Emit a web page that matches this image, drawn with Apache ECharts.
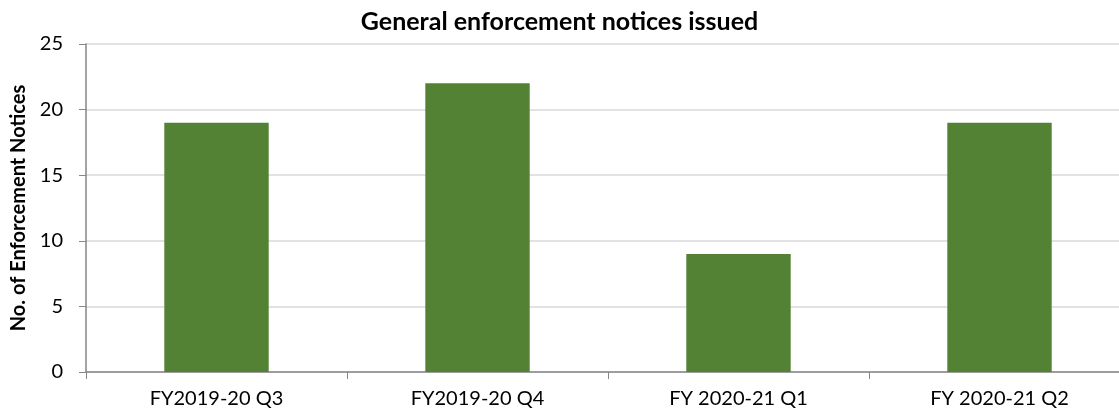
<!DOCTYPE html>
<html>
<head>
<meta charset="utf-8">
<script src="https://cdn.jsdelivr.net/npm/echarts@6/dist/echarts.min.js"></script>
<style>html,body{margin:0;padding:0;background:#fff;}#c{width:1119px;height:416px;}</style>
</head>
<body>
<div id="c"></div>
<script>
const categories = ["FY2019-20 Q3", "FY2019-20 Q4", "FY 2020-21 Q1", "FY 2020-21 Q2"];
const notices = [19, 22, 9, 19];
const yTicks = { min: 0, max: 25, interval: 5 };
const chartTitle = "General enforcement notices issued";
const yName = "No. of Enforcement Notices";

const chart = echarts.init(document.getElementById('c'), null, { renderer: 'canvas' });
const font = 'Lato, "Open Sans", sans-serif';
chart.setOption({
  animation: false,
  title: {
    text: chartTitle, left: 'center', top: 4,
    textStyle: { fontFamily: font, fontWeight: 'bold', fontSize: 25, color: '#000' }
  },
  grid: { left: 86, right: -11, top: 44, bottom: 44, containLabel: false, outerBoundsMode: 'none' },
  xAxis: {
    type: 'category', data: categories,
    axisLine: { lineStyle: { color: '#868686', width: 1.5 } },
    axisTick: { show: true, length: 7, lineStyle: { color: '#868686' } },
    axisLabel: { fontFamily: font, fontSize: 20, color: '#000', margin: 17 },
    splitLine: { show: false }
  },
  yAxis: {
    type: 'value', min: yTicks.min, max: yTicks.max, interval: yTicks.interval,
    name: yName, nameLocation: 'middle', nameGap: 52, nameRotate: 90,
    nameTextStyle: { fontFamily: font, fontWeight: 'bold', fontSize: 20, color: '#000' },
    axisLine: { show: true, lineStyle: { color: '#868686', width: 1.5 } },
    axisTick: { show: true, length: 7, lineStyle: { color: '#868686' } },
    axisLabel: { fontFamily: font, fontSize: 20, color: '#000', margin: 23 },
    splitLine: { lineStyle: { color: '#d9d9d9', width: 1.5 } }
  },
  series: [{
    type: 'bar', data: notices, barWidth: '40%',
    itemStyle: { color: '#548235' }
  }]
});
</script>
</body>
</html>
